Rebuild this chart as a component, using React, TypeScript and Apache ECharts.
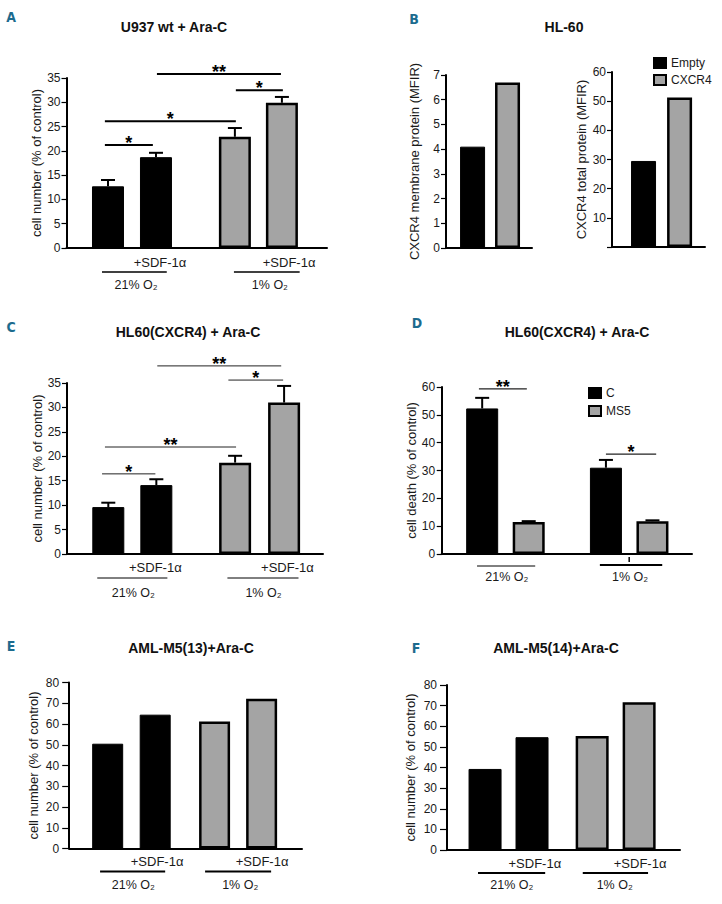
import React, { useEffect, useRef } from 'react';
import * as echarts from 'echarts';

// ---------------- DATA ----------------
const treatLabel = '+SDF-1α';
const oxygenLabels = ['21% O₂', '1% O₂'];

// Panel A: U937 wt + Ara-C
const aValues = [12.7, 18.7, 22.9, 29.9];
const aErrors = [1.3, 0.9, 1.8, 1.2];
const aSigLevels = [21.2, 26.1, 32.5, 35.8];
const aSigLabels = ['*', '*', '*', '**'];

// Panel B: HL-60
const bGroups = ['Empty', 'CXCR4'];
const bMembrane = [4.1, 6.7];
const bTotal = [29.5, 51.3];

// Panel C: HL60(CXCR4) + Ara-C
const cValues = [9.6, 14.1, 18.7, 31.0];
const cErrors = [0.9, 1.2, 1.4, 3.4];
const cSigLevels = [16.4, 21.9, 35.6, 38.5];
const cSigLabels = ['*', '**', '*', '**'];

// Panel D: HL60(CXCR4) + Ara-C, cell death
const dGroups = ['C', 'MS5'];
const dControl = [52.3, 31.0];
const dControlErr = [3.8, 2.8];
const dMS5 = [11.5, 11.8];
const dMS5Err = [0.3, 0.3];
const dSigLevels = [59.3, 35.9];
const dSigLabels = ['**', '*'];

// Panel E / F: AML-M5 patients
const eValues = [50.5, 64.5, 61.2, 72.2];
const fValues = [39.3, 54.7, 55.3, 71.6];

// ---------------- LAYOUT / STYLE ----------------
const FONT = '"Liberation Sans", Arial, Helvetica, sans-serif';
const LETTER_FONT = '"DejaVu Sans Condensed", "DejaVu Sans", sans-serif';
const LETTER_COLOR = '#1c6b8e';
const GRAY = '#a4a4a4';
const TEXT = '#1a1a1a';

type Kind = 'k' | 'g';
const fourKinds: Kind[] = ['k', 'k', 'g', 'g'];

type PanelCfg = {
  grid: { left: number; top: number; width: number; height: number };
  yMax: number;
  yInterval: number;
  yName: string;
  nameGap: number;
  tickLen: number;
  labelMargin: number;
  hideZero?: boolean;
  xMax: number;
  bars: { name: string; x: number[]; values: number[]; errors?: number[]; kinds: Kind[]; color?: Kind }[];
  barWidth: number;
  sigs?: { x1: number[]; x2: number[]; y: number[]; labels: string[]; width: number; color: string };
  texts?: { x: number; dy: number; text: string; size: number }[];
  lines?: { x1: number; x2: number; dy: number; w: number }[];
  ticks?: { x: number; dy1: number; dy2: number }[];
};

const under = (tx: number[], lx: [number, number][], ox: number[], dyT: number, dyL: number, dyO: number, lw = 1.5) => ({
  texts: [
    ...tx.map((x) => ({ x, dy: dyT, text: treatLabel, size: 13 })),
    ...ox.map((x, i) => ({ x, dy: dyO, text: oxygenLabels[i], size: 12.5 })),
  ],
  lines: lx.map(([a, b]) => ({ x1: a, x2: b, dy: dyL, w: lw })),
});

const panels: PanelCfg[] = [
  // A
  {
    grid: { left: 66.5, top: 78, width: 260.5, height: 170 },
    yMax: 35, yInterval: 5, yName: 'cell number (% of control)', nameGap: 21, tickLen: 5, labelMargin: 6,
    xMax: 5.43, barWidth: 32,
    bars: [{ name: 'A', x: [0.865, 1.865, 3.51, 4.49], values: aValues, errors: aErrors, kinds: fourKinds }],
    sigs: { x1: [0.8, 0.8, 3.53, 1.885], x2: [1.8, 3.53, 4.51, 4.47], y: aSigLevels, labels: aSigLabels, width: 2, color: '#000' },
    ...under([1.95, 4.64], [[0.74, 2.09], [3.49, 4.86]], [1.45, 4.24], 14, 24, 37),
  },
  // B1
  {
    grid: { left: 446, top: 75, width: 86, height: 173 },
    yMax: 7, yInterval: 1, yName: 'CXCR4 membrane protein (MFIR)', nameGap: 25, tickLen: 5, labelMargin: 6,
    xMax: 2.46, barWidth: 25,
    bars: [
      { name: bGroups[0], x: [0.76], values: [bMembrane[0]], kinds: ['k'], color: 'k' },
      { name: bGroups[1], x: [1.76], values: [bMembrane[1]], kinds: ['g'], color: 'g' },
    ],
  },
  // B2
  {
    grid: { left: 612, top: 72, width: 93, height: 175 },
    yMax: 60, yInterval: 10, yName: 'CXCR4 total protein (MFIR)', nameGap: 24, tickLen: 5, labelMargin: 6, hideZero: true,
    xMax: 2.58, barWidth: 25,
    bars: [
      { name: bGroups[0], x: [0.875], values: [bTotal[0]], kinds: ['k'], color: 'k' },
      { name: bGroups[1], x: [1.875], values: [bTotal[1]], kinds: ['g'], color: 'g' },
    ],
  },
  // C
  {
    grid: { left: 67, top: 383, width: 256, height: 171 },
    yMax: 35, yInterval: 5, yName: 'cell number (% of control)', nameGap: 23, tickLen: 5, labelMargin: 6,
    xMax: 5.33, barWidth: 32,
    bars: [{ name: 'C-panel', x: [0.86, 1.86, 3.5, 4.52], values: cValues, errors: cErrors, kinds: fourKinds }],
    sigs: { x1: [0.73, 0.79, 3.36, 1.88], x2: [1.84, 3.52, 4.5, 4.46], y: cSigLevels, labels: cSigLabels, width: 1, color: '#222' },
    ...under([1.84, 4.59], [[0.63, 2.09], [3.34, 4.82]], [1.38, 4.09], 13, 24, 39, 1),
  },
  // D
  {
    grid: { left: 441.7, top: 387, width: 250.3, height: 167 },
    yMax: 60, yInterval: 10, yName: 'cell death (% of control)', nameGap: 23, tickLen: 5, labelMargin: 6.5,
    xMax: 5.38, barWidth: 32,
    bars: [
      { name: dGroups[0], x: [0.87, 3.53], values: dControl, errors: dControlErr, kinds: ['k', 'k'], color: 'k' },
      { name: dGroups[1], x: [1.87, 4.53], values: dMS5, errors: dMS5Err, kinds: ['g', 'g'], color: 'g' },
    ],
    sigs: { x1: [0.8, 3.53], x2: [1.83, 4.61], y: dSigLevels, labels: dSigLabels, width: 1.3, color: '#222' },
    texts: [
      { x: 1.4, dy: 23, text: oxygenLabels[0], size: 12.5 },
      { x: 4.05, dy: 23, text: oxygenLabels[1], size: 12.5 },
    ],
    lines: [
      { x1: 0.76, x2: 2.01, dy: 12, w: 1 },
      { x1: 3.4, x2: 4.74, dy: 11, w: 2 },
    ],
    ticks: [{ x: 4.03, dy1: 3, dy2: 8 }],
  },
  // E
  {
    grid: { left: 69.2, top: 682.5, width: 232.8, height: 166 },
    yMax: 80, yInterval: 10, yName: 'cell number (% of control)', nameGap: 29, tickLen: 7, labelMargin: 10,
    xMax: 4.9, barWidth: 31,
    bars: [{ name: 'E', x: [0.81, 1.81, 3.06, 4.05], values: eValues, kinds: fourKinds }],
    ...under([1.85, 4.06], [[0.65, 2.02], [2.86, 4.25]], [1.35, 3.6], 13, 23, 36, 2),
  },
  // F
  {
    grid: { left: 447, top: 685, width: 233, height: 165 },
    yMax: 80, yInterval: 10, yName: 'cell number (% of control)', nameGap: 30.5, tickLen: 7, labelMargin: 10,
    xMax: 4.96, barWidth: 33,
    bars: [{ name: 'F', x: [0.81, 1.81, 3.09, 4.09], values: fValues, kinds: fourKinds }],
    ...under([1.87, 4.11], [[0.66, 2.09], [2.89, 4.28]], [1.38, 3.57], 13, 23, 35, 2),
  },
];

const kindStyle = (k: Kind) =>
  k === 'k'
    ? { color: '#000', borderColor: '#000', borderWidth: 1 }
    : { color: GRAY, borderColor: '#000', borderWidth: 2.5 };

const titles = [
  { text: 'U937 wt + Ara-C', x: 174, y: 27 },
  { text: 'HL-60', x: 564, y: 27 },
  { text: 'HL60(CXCR4) + Ara-C', x: 188, y: 332 },
  { text: 'HL60(CXCR4) + Ara-C', x: 577, y: 332 },
  { text: 'AML-M5(13)+Ara-C', x: 191, y: 648 },
  { text: 'AML-M5(14)+Ara-C', x: 556, y: 648 },
];
const letters = [
  { text: 'A', x: 11, y: 17 },
  { text: 'B', x: 414, y: 19 },
  { text: 'C', x: 11, y: 327 },
  { text: 'D', x: 417, y: 323 },
  { text: 'E', x: 11, y: 646 },
  { text: 'F', x: 416, y: 648 },
];

function buildOption() {
  const grid: any[] = [];
  const xAxis: any[] = [];
  const yAxis: any[] = [];
  const series: any[] = [];

  panels.forEach((p, i) => {
    grid.push({ ...p.grid, containLabel: false });
    xAxis.push({
      type: 'value', gridIndex: i, min: 0, max: p.xMax,
      axisLine: { show: true, onZero: false, lineStyle: { color: '#000', width: 2 } },
      axisTick: { show: false }, axisLabel: { show: false }, splitLine: { show: false },
    });
    yAxis.push({
      type: 'value', gridIndex: i, min: 0, max: p.yMax, interval: p.yInterval,
      name: p.yName, nameLocation: 'middle', nameGap: p.nameGap, nameRotate: 90,
      nameTextStyle: { fontFamily: FONT, fontSize: 13, color: TEXT },
      axisLine: { show: true, lineStyle: { color: '#000', width: 2 } },
      axisTick: {
        show: true, length: p.tickLen, lineStyle: { color: '#000', width: 1.2 },
        interval: p.hideZero ? (idx: number, v: any) => Number(v) !== 0 : 'auto',
      },
      axisLabel: {
        fontFamily: FONT, fontSize: 12, color: TEXT, margin: p.labelMargin,
        formatter: (v: number) => (p.hideZero && v === 0 ? '' : String(v)),
      },
      splitLine: { show: false },
    });

    p.bars.forEach((b) => {
      series.push({
        type: 'bar', name: b.name, xAxisIndex: i, yAxisIndex: i,
        barWidth: p.barWidth, barGap: '-100%',
        itemStyle: b.color ? kindStyle(b.color) : undefined,
        data: b.x.map((x, k) => ({ value: [x, b.values[k]], itemStyle: kindStyle(b.kinds[k]) })),
        z: 2,
      });
      if (b.errors) {
        const errs = b.errors;
        series.push({
          type: 'custom', xAxisIndex: i, yAxisIndex: i, clip: false, z: 4,
          data: b.x.map((x, k) => [x, b.values[k], errs[k]]),
          renderItem: (_params: any, api: any) => {
            const x = api.value(0), v = api.value(1), e = api.value(2);
            const p0 = api.coord([x, v]);
            const p1 = api.coord([x, v + e]);
            return {
              type: 'group',
              children: [
                { type: 'line', shape: { x1: p0[0], y1: p0[1], x2: p1[0], y2: p1[1] }, style: { stroke: '#000', lineWidth: 2 } },
                { type: 'line', shape: { x1: p1[0] - 7, y1: p1[1], x2: p1[0] + 7, y2: p1[1] }, style: { stroke: '#000', lineWidth: 2 } },
              ],
            };
          },
        });
      }
    });

    if (p.sigs) {
      const s = p.sigs;
      series.push({
        type: 'custom', xAxisIndex: i, yAxisIndex: i, clip: false, z: 4,
        encode: { x: [0, 1], y: 2 },
        data: s.y.map((y, k) => [s.x1[k], s.x2[k], y]),
        renderItem: (params: any, api: any) => {
          const a = api.coord([api.value(0), api.value(2)]);
          const b = api.coord([api.value(1), api.value(2)]);
          const label = s.labels[params.dataIndex];
          return {
            type: 'group',
            children: [
              { type: 'line', shape: { x1: a[0], y1: a[1], x2: b[0], y2: b[1] }, style: { stroke: s.color, lineWidth: s.width } },
              {
                type: 'text',
                style: {
                  text: label, x: (a[0] + b[0]) / 2, y: a[1] - 2,
                  align: 'center', verticalAlign: 'middle', textAlign: 'center', textVerticalAlign: 'middle',
                  font: `bold 18px ${FONT}`, fill: '#000',
                },
              },
            ],
          };
        },
      });
    }

    if (p.texts || p.lines || p.ticks) {
      const texts = p.texts || [];
      const lines = p.lines || [];
      const ticks = p.ticks || [];
      const items = [
        ...texts.map((t) => [t.x, 0]),
        ...lines.map((l) => [l.x1, 0]),
        ...ticks.map((t) => [t.x, 0]),
      ];
      series.push({
        type: 'custom', xAxisIndex: i, yAxisIndex: i, clip: false, z: 4,
        data: items,
        renderItem: (params: any, api: any) => {
          let idx = params.dataIndex;
          if (idx < texts.length) {
            const t = texts[idx];
            const c = api.coord([t.x, 0]);
            return {
              type: 'text',
              style: {
                text: t.text, x: c[0], y: c[1] + t.dy,
                align: 'center', verticalAlign: 'middle', textAlign: 'center', textVerticalAlign: 'middle',
                font: `${t.size}px ${FONT}`, fill: TEXT,
              },
            };
          }
          idx -= texts.length;
          if (idx < lines.length) {
            const l = lines[idx];
            const a = api.coord([l.x1, 0]);
            const b = api.coord([l.x2, 0]);
            return {
              type: 'line',
              shape: { x1: a[0], y1: a[1] + l.dy, x2: b[0], y2: b[1] + l.dy },
              style: { stroke: '#000', lineWidth: l.w },
            };
          }
          idx -= lines.length;
          const tk = ticks[idx];
          const c = api.coord([tk.x, 0]);
          return {
            type: 'line',
            shape: { x1: c[0], y1: c[1] + tk.dy1, x2: c[0], y2: c[1] + tk.dy2 },
            style: { stroke: '#000', lineWidth: 1.5 },
          };
        },
      });
    }
  });

  const graphic: any[] = [
    ...titles.map((t) => ({
      type: 'text', x: t.x, y: t.y,
      style: { text: t.text, textAlign: 'center', textVerticalAlign: 'middle', font: `bold 14px ${FONT}`, fill: '#111' },
    })),
    ...letters.map((t) => ({
      type: 'text', x: t.x, y: t.y,
      style: { text: t.text, textAlign: 'center', textVerticalAlign: 'middle', font: `bold 14px ${LETTER_FONT}`, fill: LETTER_COLOR },
    })),
  ];

  const legendCommon = {
    orient: 'vertical', icon: 'rect', itemWidth: 12, itemHeight: 10,
    padding: 0, selectedMode: false,
    textStyle: { fontFamily: FONT, fontSize: 12, color: TEXT },
  };

  return {
    animation: false,
    backgroundColor: '#fff',
    textStyle: { fontFamily: FONT },
    grid, xAxis, yAxis, series, graphic,
    legend: [
      { ...legendCommon, left: 653, top: 57, itemGap: 5, data: bGroups },
      { ...legendCommon, left: 588, top: 387, itemGap: 6, data: dGroups },
    ],
  };
}

export default function App() {
  const ref = useRef<HTMLDivElement>(null);
  useEffect(() => {
    if (!ref.current) return;
    const chart = echarts.init(ref.current, undefined, { renderer: 'svg' });
    chart.setOption(buildOption() as any);
    return () => chart.dispose();
  }, []);
  return (
    <div
      ref={ref}
      style={{ position: 'absolute', left: 0, top: 0, width: 722, height: 904, background: '#fff' }}
    />
  );
}
